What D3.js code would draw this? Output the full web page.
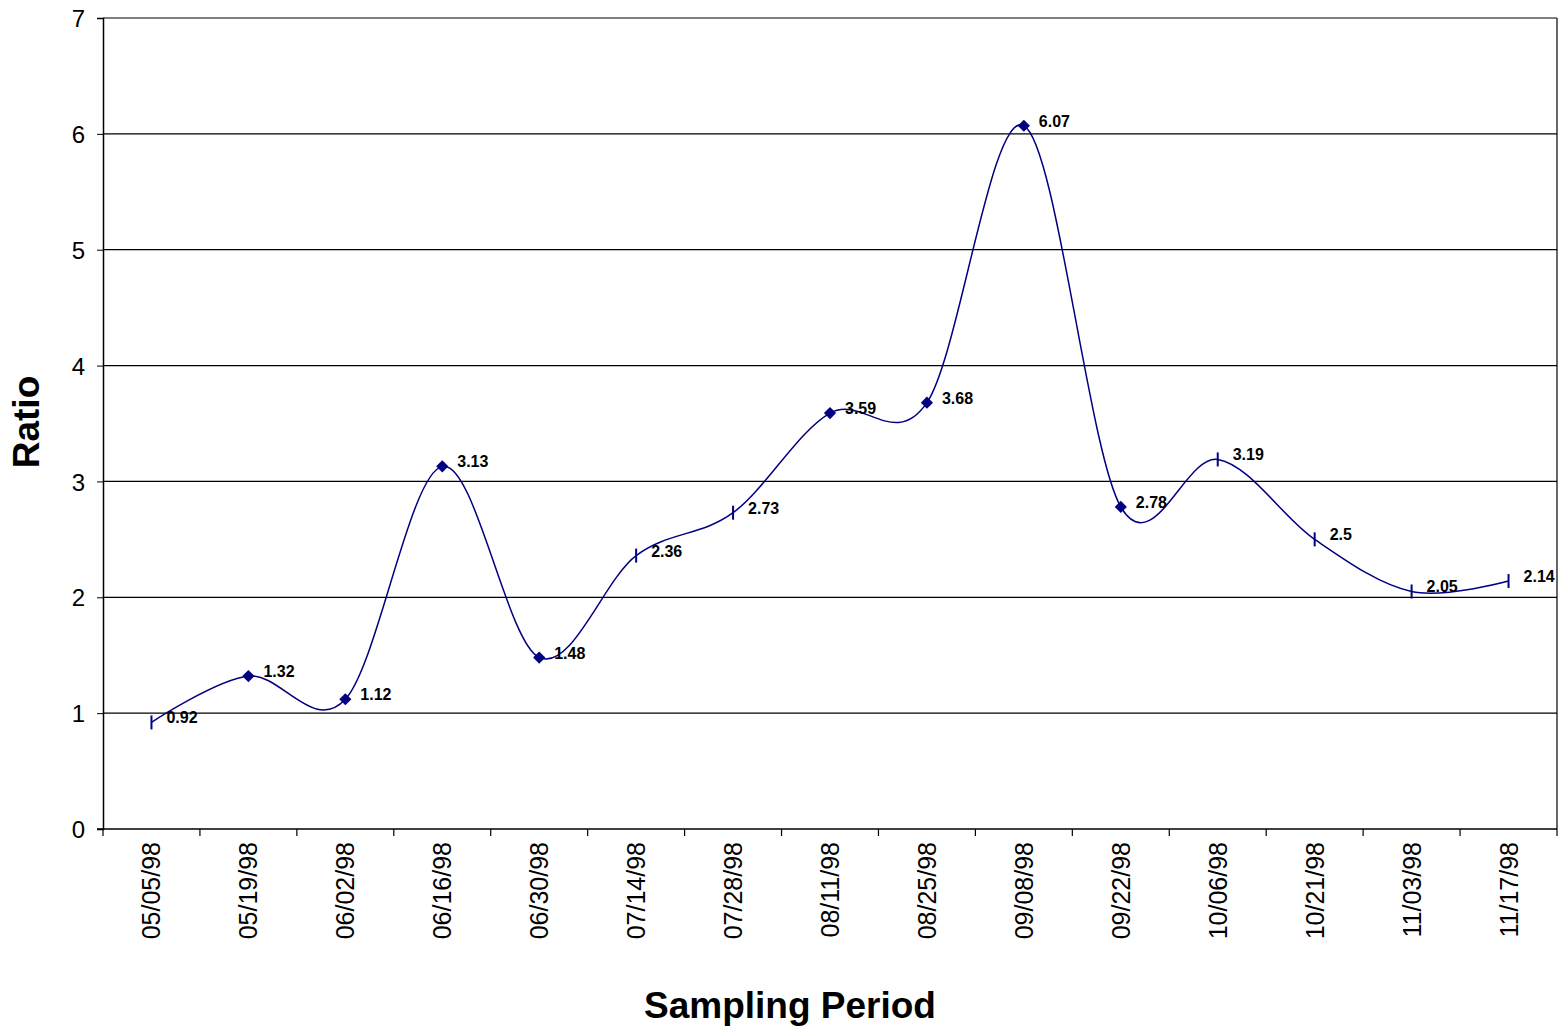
<!DOCTYPE html>
<html><head><meta charset="utf-8">
<script src="https://cdn.jsdelivr.net/npm/d3@7"></script>
<style>body{margin:0;background:#fff}svg{display:block}</style>
</head><body>
<svg id="c" width="1559" height="1029"></svg>
<script>
const categories = ["05/05/98","05/19/98","06/02/98","06/16/98","06/30/98","07/14/98","07/28/98","08/11/98","08/25/98","09/08/98","09/22/98","10/06/98","10/21/98","11/03/98","11/17/98"];
const ratios = [0.92,1.32,1.12,3.13,1.48,2.36,2.73,3.59,3.68,6.07,2.78,3.19,2.5,2.05,2.14];
const markerTypes = ["dash","diamond","diamond","diamond","diamond","dash","dash","diamond","diamond","diamond","diamond","dash","dash","dash","dash"];
const yTicks = [0,1,2,3,4,5,6,7];

const FONT = "Arial, 'Liberation Sans', sans-serif";
const svg = d3.select("#c");
const L = 103, R = 1557, T = 18, B = 829;
const x = d3.scaleBand().domain(categories).range([L, R]).padding(0);
const y = d3.scaleLinear().domain([0,7]).range([B, T]);
const cx = d => x(d) + x.bandwidth()/2;

// gridlines
svg.append("g").selectAll("line").data(yTicks.filter(t=>t>0)).join("line")
  .attr("x1", L).attr("x2", R).attr("y1", d=>y(d)).attr("y2", d=>y(d))
  .attr("stroke", "#000").attr("stroke-width", 1.2);
// right border
svg.append("line").attr("x1", R).attr("x2", R).attr("y1", T).attr("y2", B).attr("stroke","#000").attr("stroke-width",1.2);

// y axis
const yAxis = svg.append("g").attr("transform", `translate(${L},0)`)
  .call(d3.axisLeft(y).tickValues(yTicks).tickSize(6).tickPadding(12).tickFormat(d3.format("d")));
yAxis.select(".domain").attr("stroke","#000").attr("stroke-width",1.5);
yAxis.selectAll("text").attr("font-family",FONT).attr("font-size",24).attr("fill","#000").attr("dy","0.36em");

// x axis with ticks at band boundaries
const xAxisG = svg.append("g").attr("transform", `translate(0,${B})`);
xAxisG.append("line").attr("x1", L-6).attr("x2", R).attr("y1",0).attr("y2",0).attr("stroke","#000").attr("stroke-width",1.5);
const bounds = categories.map(c => x(c)).concat([R]);
xAxisG.selectAll("line.tk").data(bounds).join("line").attr("class","tk")
  .attr("x1", d=>d).attr("x2", d=>d).attr("y1",0).attr("y2",7).attr("stroke","#000").attr("stroke-width",1.2);
xAxisG.selectAll("text").data(categories).join("text")
  .attr("transform", d => `translate(${cx(d)+9},${13}) rotate(-90)`)
  .attr("text-anchor","end")
  .attr("font-family",FONT).attr("font-size",25).attr("fill","#000")
  .text(d=>d);

// line
const data = categories.map((c,i)=>({c, v: ratios[i], m: markerTypes[i]}));
svg.append("path").datum(data)
  .attr("d", d3.line().x(d=>cx(d.c)).y(d=>y(d.v)).curve(d3.curveCatmullRom.alpha(0)))
  .attr("fill","none").attr("stroke","#000080").attr("stroke-width",1.5);

// markers
const mk = svg.append("g");
data.forEach(d => {
  const px = cx(d.c), py = y(d.v);
  if (d.m === "diamond") {
    mk.append("path").attr("d", d3.symbol().type(d3.symbolDiamond2).size(95)())
      .attr("transform", `translate(${px},${py})`).attr("fill","#000080");
  } else {
    mk.append("line").attr("x1",px).attr("x2",px).attr("y1",py-7).attr("y2",py+7)
      .attr("stroke","#000080").attr("stroke-width",2);
  }
});

// labels
svg.append("g").selectAll("text").data(data).join("text")
  .attr("x", d=>cx(d.c)+15).attr("y", d=>y(d.v)+1)
  .attr("font-family",FONT).attr("font-size",16).attr("font-weight","bold").attr("fill","#000")
  .text(d=>String(d.v));

// titles
svg.append("text").attr("x", 790).attr("y", 1018).attr("text-anchor","middle")
  .attr("font-family",FONT).attr("font-size",37).attr("font-weight","bold").text("Sampling Period");
svg.append("text").attr("transform","translate(39,422) rotate(-90)").attr("text-anchor","middle")
  .attr("font-family",FONT).attr("font-size",37).attr("font-weight","bold").text("Ratio");
</script>
</body></html>
